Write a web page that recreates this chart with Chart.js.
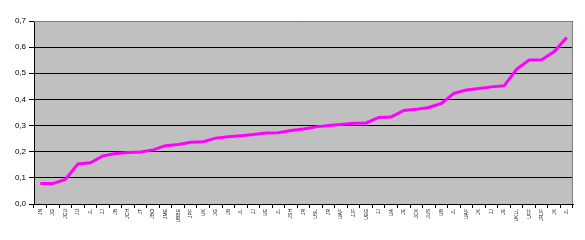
<!DOCTYPE html>
<html>
<head>
<meta charset="utf-8">
<script src="https://cdn.jsdelivr.net/npm/chart.js@4.4.1/dist/chart.umd.min.js"></script>
<style>
    html, body { margin: 0; padding: 0; background: #ffffff; }
    #wrap { width: 585px; height: 240px; }
</style>
</head>
<body>
<div id="wrap"><canvas id="lineChart" width="585" height="240"></canvas></div>
<script>
// Category labels (tiny rotated codes under the axis)
const categories = [
    'JN', 'JG', 'JCU', 'JU', 'JL', 'JJ', 'JB', 'JCH', 'JT', 'JBO', 'JME', 'UBBE', 'JPF',
    'UK', 'JG', 'JB', 'JL', 'JJ', 'UE', 'JL', 'JSH', 'JR', 'USL', 'JR', 'UAF', 'JJF', 'UEG', 'JJ',
    'UA', 'JE', 'JCK', 'JUS', 'UB', 'JL', 'UAF', 'JK', 'JJ', 'JE', 'UKLL', 'UFF', 'JRJF', 'JK', 'JL'
];

// Series values
const seriesValues = [
    0.078, 0.078, 0.094, 0.153, 0.158, 0.184, 0.193, 0.197, 0.199, 0.207, 0.223,
    0.228, 0.236, 0.238, 0.252, 0.257, 0.261, 0.266, 0.272, 0.273, 0.281,
    0.287, 0.295, 0.300, 0.304, 0.309, 0.310, 0.331, 0.333, 0.358, 0.362,
    0.369, 0.385, 0.423, 0.436, 0.442, 0.448, 0.452, 0.515, 0.551, 0.552, 0.583, 0.637
];

// Y axis
const yTicks = [0, 0.1, 0.2, 0.3, 0.4, 0.5, 0.6, 0.7];

document.addEventListener('DOMContentLoaded', function() {
    if (typeof Chart === 'undefined') {
        console.error('Chart.js is not loaded');
        return;
    }

    // gray plot background + gray top/right frame
    const plotFrame = {
        id: 'plotFrame',
        beforeDraw(chart) {
            const a = chart.chartArea;
            const ctx = chart.ctx;
            ctx.save();
            ctx.fillStyle = '#c0c0c0';
            ctx.fillRect(a.left, a.top, a.right - a.left, a.bottom - a.top);
            ctx.restore();
        },
        afterDatasetsDraw(chart) {
            const a = chart.chartArea;
            const ctx = chart.ctx;
            ctx.save();
            ctx.strokeStyle = '#808080';
            ctx.lineWidth = 1;
            ctx.beginPath();
            ctx.moveTo(a.left, a.top + 0.5);
            ctx.lineTo(a.right - 0.5, a.top + 0.5);
            ctx.lineTo(a.right - 0.5, a.bottom);
            ctx.stroke();
            ctx.restore();
        }
    };

    const ctx = document.getElementById('lineChart').getContext('2d');
    new Chart(ctx, {
        type: 'line',
        data: {
            labels: categories,
            datasets: [{
                label: 'Serie',
                data: seriesValues,
                borderColor: '#ff00ff',
                borderWidth: 3,
                tension: 0,
                pointRadius: 0,
                fill: false
            }]
        },
        options: {
            responsive: false,
            animation: false,
            layout: { padding: { top: 21, right: 12, left: 0, bottom: 0 } },
            plugins: {
                legend: { display: false },
                tooltip: { enabled: false }
            },
            scales: {
                x: {
                    offset: true,
                    grid: {
                        offset: true,
                        drawOnChartArea: false,
                        drawTicks: true,
                        tickLength: 4,
                        tickColor: '#000000'
                    },
                    border: { display: true, color: '#000000', width: 1 },
                    ticks: {
                        autoSkip: false,
                        maxRotation: 90,
                        minRotation: 90,
                        padding: 1,
                        color: '#000000',
                        font: { family: 'Liberation Sans, Arial', size: 5 }
                    },
                    afterFit(scale) { scale.height = 36; }
                },
                y: {
                    min: 0,
                    max: 0.7,
                    afterBuildTicks(scale) {
                        scale.ticks = yTicks.map(v => ({ value: v }));
                    },
                    grid: {
                        color: '#000000',
                        lineWidth: 1,
                        drawTicks: true,
                        tickLength: 5,
                        tickColor: '#000000'
                    },
                    border: { display: true, color: '#000000', width: 1 },
                    ticks: {
                        padding: 3,
                        color: '#000000',
                        font: { family: 'Liberation Sans, Arial', size: 8 },
                        callback: function(value) {
                            return Number(value).toFixed(1).replace('.', ',');
                        }
                    },
                    afterFit(scale) { scale.width = 34; }
                }
            }
        },
        plugins: [plotFrame]
    });
});
</script>
</body>
</html>
